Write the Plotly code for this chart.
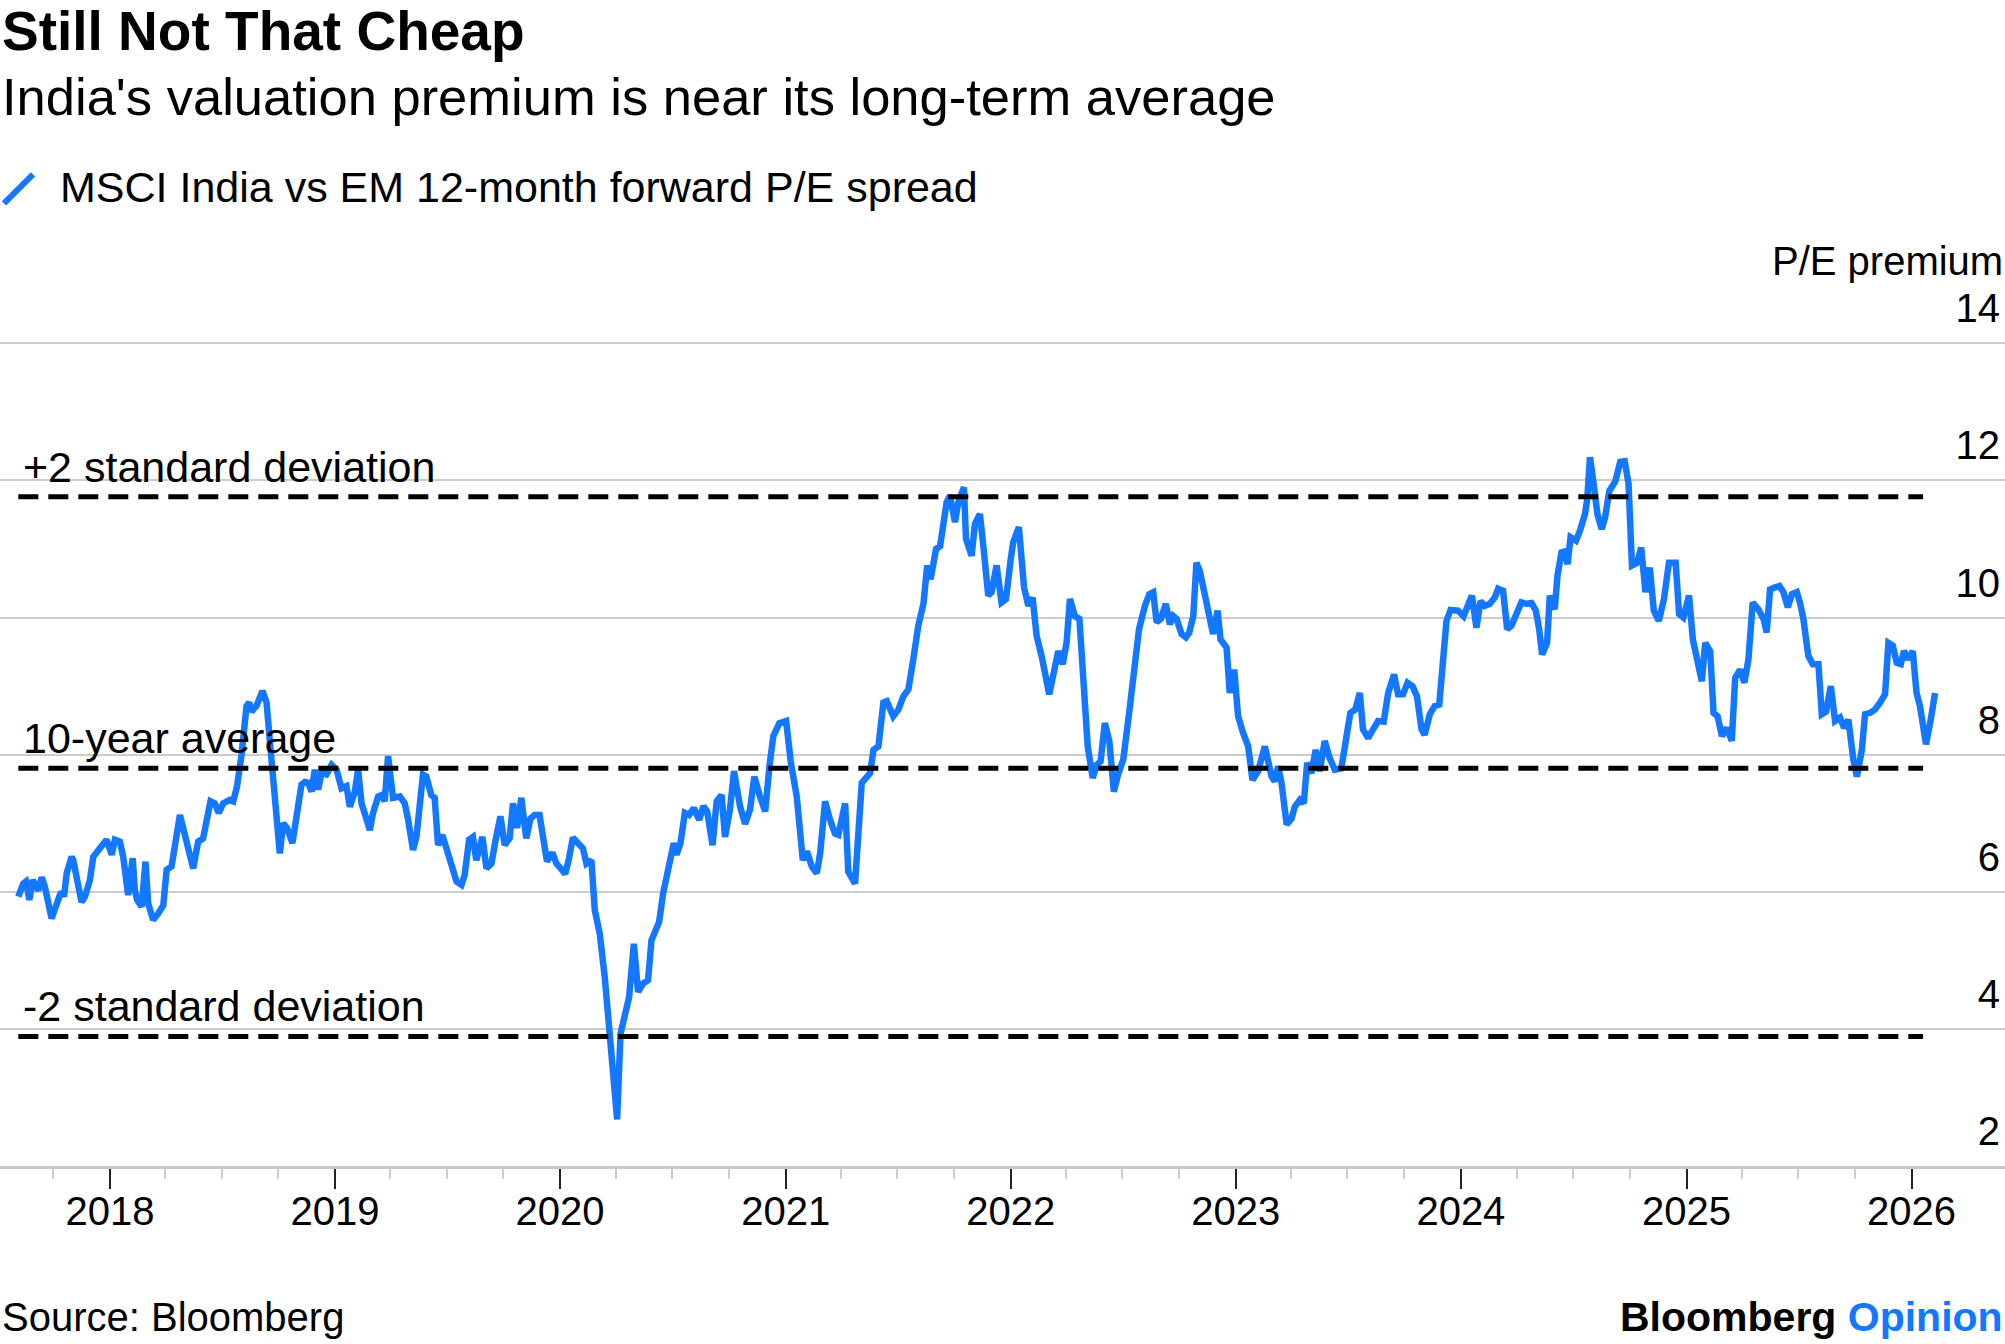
import datetime as dt
import plotly.graph_objects as go

# ---------------- data ----------------
# decimal-year positions of the weekly observations and MSCI India vs EM fwd P/E spread
years = [
    2017.593, 2017.615, 2017.627, 2017.642, 2017.657, 2017.671, 2017.682, 2017.697, 2017.711, 2017.741,
    2017.756, 2017.775, 2017.785, 2017.796, 2017.808, 2017.830, 2017.837, 2017.874, 2017.889, 2017.911,
    2017.926, 2017.948, 2017.985, 2018.008, 2018.022, 2018.044, 2018.059, 2018.081, 2018.101, 2018.111,
    2018.121, 2018.141, 2018.158, 2018.170, 2018.192, 2018.214, 2018.237, 2018.252, 2018.274, 2018.311,
    2018.341, 2018.370, 2018.392, 2018.414, 2018.447, 2018.466, 2018.484, 2018.503, 2018.533, 2018.548,
    2018.565, 2018.577, 2018.585, 2018.607, 2018.619, 2018.629, 2018.651, 2018.678, 2018.696, 2018.710,
    2018.722, 2018.733, 2018.755, 2018.770, 2018.787, 2018.811, 2018.836, 2018.851, 2018.866, 2018.881,
    2018.896, 2018.910, 2018.925, 2018.940, 2018.962, 2018.985, 2019.007, 2019.029, 2019.051, 2019.066,
    2019.088, 2019.103, 2019.118, 2019.140, 2019.155, 2019.169, 2019.192, 2019.207, 2019.221, 2019.236,
    2019.258, 2019.288, 2019.310, 2019.325, 2019.347, 2019.362,
    2019.391, 2019.406, 2019.428, 2019.443, 2019.458, 2019.477, 2019.495, 2019.517, 2019.540, 2019.562,
    2019.576, 2019.596, 2019.613, 2019.628, 2019.640, 2019.655, 2019.673, 2019.695, 2019.714, 2019.735,
    2019.754, 2019.776, 2019.791, 2019.809, 2019.828, 2019.850, 2019.869, 2019.887, 2019.909, 2019.924,
    2019.942, 2019.966, 2019.984, 2020.003, 2020.023, 2020.040, 2020.057, 2020.087, 2020.102, 2020.117,
    2020.139, 2020.154, 2020.176, 2020.198, 2020.220, 2020.235, 2020.253, 2020.268, 2020.287, 2020.306,
    2020.327, 2020.346, 2020.368, 2020.390, 2020.405, 2020.428, 2020.439, 2020.457, 2020.472, 2020.490,
    2020.504, 2020.516, 2020.534, 2020.553, 2020.572, 2020.593, 2020.617, 2020.635, 2020.652, 2020.676,
    2020.694, 2020.716, 2020.731, 2020.753, 2020.771, 2020.798, 2020.820, 2020.842, 2020.861, 2020.886,
    2020.909, 2020.928, 2020.945, 2020.972, 2021.002, 2021.023, 2021.049, 2021.076, 2021.094, 2021.116,
    2021.138, 2021.153, 2021.175, 2021.197, 2021.219, 2021.234,
    2021.264, 2021.278, 2021.308, 2021.338, 2021.353, 2021.375, 2021.390, 2021.412, 2021.434, 2021.449,
    2021.478, 2021.501, 2021.523, 2021.545, 2021.567, 2021.589, 2021.612, 2021.629, 2021.644, 2021.668,
    2021.686, 2021.715, 2021.730, 2021.752, 2021.767, 2021.792, 2021.801, 2021.826, 2021.841, 2021.863,
    2021.878, 2021.900, 2021.915, 2021.937, 2021.959, 2021.979, 2021.999, 2022.011, 2022.036, 2022.059,
    2022.078, 2022.097, 2022.115, 2022.137, 2022.171, 2022.189, 2022.211, 2022.231, 2022.248, 2022.263,
    2022.285, 2022.305, 2022.322, 2022.342, 2022.364, 2022.382, 2022.399, 2022.418, 2022.438, 2022.458,
    2022.477, 2022.500, 2022.526, 2022.552, 2022.570, 2022.596, 2022.615, 2022.633, 2022.648, 2022.667,
    2022.689, 2022.707, 2022.722, 2022.737, 2022.759, 2022.778, 2022.793, 2022.811, 2022.825, 2022.840,
    2022.862, 2022.885, 2022.899, 2022.919, 2022.932, 2022.959, 2022.973, 2022.993, 2023.010, 2023.032,
    2023.055, 2023.074, 2023.099,
    2023.129, 2023.144, 2023.159, 2023.173, 2023.188, 2023.203, 2023.226, 2023.248, 2023.262, 2023.285,
    2023.302, 2023.317, 2023.336, 2023.355, 2023.373, 2023.395, 2023.417, 2023.440, 2023.469, 2023.492,
    2023.509, 2023.531, 2023.551, 2023.565, 2023.588, 2023.610, 2023.632, 2023.657, 2023.677, 2023.703,
    2023.721, 2023.743, 2023.763, 2023.785, 2023.805, 2023.825, 2023.839, 2023.862, 2023.884, 2023.904,
    2023.921, 2023.936, 2023.954, 2023.988, 2024.012, 2024.032, 2024.049, 2024.069, 2024.087, 2024.106,
    2024.128, 2024.150, 2024.165, 2024.187, 2024.205, 2024.224, 2024.246, 2024.268, 2024.290, 2024.313,
    2024.332, 2024.347, 2024.360, 2024.382, 2024.394, 2024.416, 2024.428, 2024.446, 2024.458, 2024.473,
    2024.486, 2024.510, 2024.528, 2024.550, 2024.560, 2024.572, 2024.587, 2024.605, 2024.624, 2024.639,
    2024.658, 2024.684, 2024.706, 2024.726, 2024.743, 2024.758, 2024.781, 2024.799, 2024.818, 2024.837,
    2024.855, 2024.877, 2024.900, 2024.922, 2024.952, 2024.967, 2024.986, 2025.011,
    2025.028, 2025.049, 2025.068, 2025.083, 2025.105, 2025.120, 2025.138, 2025.157, 2025.179, 2025.201,
    2025.216, 2025.238, 2025.257, 2025.275, 2025.294, 2025.319, 2025.342, 2025.356, 2025.371, 2025.393,
    2025.413, 2025.430, 2025.450, 2025.468, 2025.490, 2025.504, 2025.519, 2025.541, 2025.561, 2025.586,
    2025.601, 2025.620, 2025.641, 2025.660, 2025.682, 2025.700, 2025.719, 2025.741, 2025.757, 2025.779,
    2025.793, 2025.816, 2025.838, 2025.860, 2025.882, 2025.897, 2025.916, 2025.934, 2025.952, 2025.966,
    2025.985, 2026.005, 2026.022, 2026.037, 2026.064, 2026.085, 2026.104,
]

pe_spread = [
    5.93, 6.12, 6.15, 5.88, 6.17, 6.05, 6.02, 6.21, 6.07, 5.61,
    5.78, 5.93, 6.00, 5.93, 6.27, 6.51, 6.46, 5.85, 5.93, 6.17,
    6.51, 6.59, 6.76, 6.54, 6.76, 6.73, 6.51, 5.95, 6.49, 6.02,
    5.88, 5.78, 6.44, 5.83, 5.59, 5.68, 5.80, 6.32, 6.37, 7.12,
    6.71, 6.34, 6.73, 6.78, 7.32, 7.29, 7.15, 7.29, 7.34, 7.32,
    7.54, 7.78, 8.00, 8.71, 8.76, 8.63, 8.71, 8.93, 8.76, 8.22,
    7.73, 7.39, 6.56, 7.00, 6.93, 6.71, 7.29, 7.56, 7.60, 7.59,
    7.46, 7.78, 7.49, 7.73, 7.71, 7.85, 7.78, 7.51, 7.54, 7.24,
    7.46, 7.78, 7.29, 7.05, 6.90, 7.15, 7.39, 7.41, 7.32, 7.98,
    7.37, 7.39, 7.29, 7.05, 6.61, 6.80,
    7.71, 7.68, 7.41, 7.37, 6.68, 6.83, 6.61, 6.37, 6.15, 6.10,
    6.24, 6.76, 6.80, 6.46, 6.66, 6.80, 6.34, 6.41, 6.76, 7.10,
    6.68, 6.78, 7.29, 6.93, 7.37, 6.78, 7.07, 7.12, 7.12, 6.76,
    6.44, 6.57, 6.41, 6.34, 6.26, 6.49, 6.79, 6.68, 6.63, 6.41,
    6.46, 5.73, 5.39, 4.76, 3.93, 3.20, 2.68, 3.93, 4.17, 4.46,
    5.24, 4.54, 4.66, 4.71, 5.29, 5.49, 5.56, 5.98, 6.22, 6.51,
    6.71, 6.54, 6.71, 7.15, 7.12, 7.22, 7.05, 7.25, 7.17, 6.68,
    7.32, 7.41, 6.80, 7.20, 7.76, 7.24, 6.99, 7.20, 7.68, 7.39,
    7.17, 7.83, 8.27, 8.46, 8.49, 7.88, 7.39, 6.46, 6.59, 6.37,
    6.27, 6.56, 7.32, 7.05, 6.85, 6.83,
    7.29, 6.29, 6.12, 7.59, 7.66, 7.73, 8.07, 8.12, 8.76, 8.78,
    8.56, 8.66, 8.85, 8.95, 9.39, 9.88, 10.20, 10.76, 10.56, 11.00,
    11.04, 11.68, 11.78, 11.39, 11.68, 11.90, 11.15, 10.90, 11.37, 11.51,
    11.05, 10.32, 10.37, 10.76, 10.22, 10.27, 10.83, 11.10, 11.32, 10.44,
    10.17, 10.29, 9.73, 9.44, 8.88, 9.20, 9.51, 9.32, 9.63, 10.27,
    10.02, 9.98, 9.15, 8.12, 7.66, 7.85, 7.90, 8.46, 8.20, 7.46,
    7.71, 7.93, 8.61, 9.34, 9.83, 10.17, 10.34, 10.37, 9.93, 9.98,
    10.20, 9.90, 10.02, 9.98, 9.76, 9.71, 9.78, 10.02, 10.80, 10.68,
    10.32, 9.88, 9.76, 10.10, 9.68, 9.56, 8.90, 9.24, 8.56, 8.32,
    8.12, 7.63, 7.76,
    8.12, 7.93, 7.68, 7.61, 7.83, 7.59, 6.98, 7.07, 7.24, 7.34,
    7.29, 7.88, 7.73, 8.07, 7.76, 8.20, 7.95, 7.78, 7.80, 8.27,
    8.61, 8.66, 8.90, 8.37, 8.24, 8.37, 8.49, 8.48, 8.90, 9.17,
    8.88, 8.88, 9.05, 9.00, 8.85, 8.37, 8.29, 8.59, 8.71, 8.73,
    9.56, 9.95, 10.11, 10.10, 10.02, 10.22, 10.32, 9.85, 10.24, 10.17,
    10.20, 10.29, 10.42, 10.39, 9.83, 9.88, 10.07, 10.22, 10.20, 10.21,
    10.10, 9.83, 9.46, 9.63, 10.32, 10.12, 10.61, 10.95, 10.96, 10.78,
    11.17, 11.12, 11.27, 11.51, 11.73, 12.34, 11.98, 11.51, 11.29, 11.46,
    11.85, 11.98, 12.27, 12.28, 11.95, 10.76, 10.80, 11.02, 10.37, 10.73,
    10.10, 9.95, 10.27, 10.80, 10.80, 10.05, 10.00, 10.32,
    9.68, 9.34, 9.07, 9.63, 9.51, 8.61, 8.56, 8.27, 8.39, 8.20,
    9.12, 9.24, 9.05, 9.39, 10.22, 10.12, 9.98, 9.78, 10.41, 10.44,
    10.46, 10.37, 10.15, 10.34, 10.37, 10.22, 9.98, 9.44, 9.32, 9.32,
    8.59, 8.63, 9.00, 8.49, 8.54, 8.39, 8.51, 7.93, 7.68, 8.07,
    8.59, 8.61, 8.66, 8.76, 8.88, 9.63, 9.59, 9.34, 9.32, 9.51,
    9.39, 9.51, 8.90, 8.71, 8.15, 8.51, 8.90,
]

# reference levels
band_names = ["+2 standard deviation", "10-year average", "-2 standard deviation"]
band_values = [11.76, 7.80, 3.89]
band_end_year = 2026.051

year_ticks = [2018, 2019, 2020, 2021, 2022, 2023, 2024, 2025, 2026]
y_ticks = [2, 4, 6, 8, 10, 12, 14]

TITLE = "Still Not That Cheap"
SUBTITLE = "India's valuation premium is near its long-term average"
LEGEND = "MSCI India vs EM 12-month forward P/E spread"
UNIT = "P/E premium"
SOURCE = "Source: Bloomberg"

# ---------------- helpers ----------------
def to_date(d):
    y = int(d)
    start = dt.datetime(y, 1, 1)
    end = dt.datetime(y + 1, 1, 1)
    return start + (end - start) * (d - y)

dates = [to_date(v) for v in years]

W, H = 2005, 1344
Y_MIN, Y_MAX = 2, 14.15
PX_PER_UNIT = 68.58
PLOT_BOTTOM = 1166
PLOT_TOP = PLOT_BOTTOM - (Y_MAX - Y_MIN) * PX_PER_UNIT
BLUE = "#1477ff"
FONT = "Liberation Sans, Arial, Helvetica, sans-serif"

def py(pix):
    return (PLOT_BOTTOM - pix) / (PLOT_BOTTOM - PLOT_TOP)

def px(pix):
    return pix / W

fig = go.Figure()
fig.add_trace(go.Scatter(x=dates, y=pe_spread, mode="lines",
                         line=dict(color=BLUE, width=6.5), hoverinfo="skip", showlegend=False))

for name, val in zip(band_names, band_values):
    fig.add_trace(go.Scatter(x=[dates[0], to_date(band_end_year)], y=[val, val], mode="lines",
                             line=dict(color="#000000", width=5, dash="20px,10px"),
                             hoverinfo="skip", showlegend=False))
    fig.add_annotation(x=px(21), xref="paper", y=val, yref="y", text=name, showarrow=False,
                       xanchor="left", yanchor="middle", yshift=30,
                       font=dict(size=43, color="#000", family=FONT))

minor_vals = []
for y in range(2017, 2026):
    for m in (4, 7, 10):
        d = dt.datetime(y, m, 1)
        if dt.datetime(2017, 8, 1) < d < dt.datetime(2026, 1, 1):
            minor_vals.append(d)

fig.update_layout(
    width=W, height=H,
    margin=dict(l=0, r=0, t=round(PLOT_TOP), b=H - PLOT_BOTTOM, pad=0),
    paper_bgcolor="white", plot_bgcolor="white",
    font=dict(family=FONT, color="#000"),
    showlegend=False,
    xaxis=dict(
        type="date",
        range=[to_date(2017.5116), to_date(2026.415)],
        tickvals=[dt.datetime(y, 1, 1) for y in year_ticks],
        ticktext=[str(y) for y in year_ticks],
        ticks="outside", ticklen=20, tickwidth=2, tickcolor="#222",
        ticklabelstandoff=-12,
        tickfont=dict(size=40, color="#000", family=FONT),
        showgrid=False, zeroline=False,
        showline=True, linecolor="#c8c8c8", linewidth=3,
        minor=dict(tickvals=minor_vals, ticks="outside", ticklen=10, tickwidth=2,
                   tickcolor="#cccccc", showgrid=False),
        automargin=False, fixedrange=True,
    ),
    yaxis=dict(
        range=[Y_MIN, Y_MAX], tickvals=y_ticks, ticktext=[str(v) for v in y_ticks],
        side="right", ticklabelposition="inside", ticks="",
        ticklabelshift=-35, ticklabelstandoff=2, ticklabeloverflow="allow",
        tickfont=dict(size=40, color="#000", family=FONT),
        showgrid=True, gridcolor="#cccccc", gridwidth=2,
        zeroline=False, showline=False, automargin=False, fixedrange=True,
    ),
)

# header texts
fig.add_annotation(x=0, xref="paper", y=py(31), yref="paper", text=f"<b>{TITLE}</b>",
                   showarrow=False, xanchor="left", yanchor="middle",
                   font=dict(size=55, color="#000", family=FONT))
fig.add_annotation(x=0, xref="paper", y=py(96), yref="paper", text=SUBTITLE,
                   showarrow=False, xanchor="left", yanchor="middle",
                   font=dict(size=52.5, color="#000", family=FONT))
fig.add_shape(type="line", xref="paper", yref="paper",
              x0=px(4), y0=py(203), x1=px(33), y1=py(174),
              line=dict(color=BLUE, width=6))
fig.add_annotation(x=px(58), xref="paper", y=py(187), yref="paper", text=LEGEND,
                   showarrow=False, xanchor="left", yanchor="middle",
                   font=dict(size=43, color="#000", family=FONT))
fig.add_annotation(x=1, xref="paper", y=py(261), yref="paper", text=UNIT,
                   showarrow=False, xanchor="right", yanchor="middle",
                   font=dict(size=40, color="#000", family=FONT))
fig.add_annotation(x=0, xref="paper", y=py(1317), yref="paper", text=SOURCE,
                   showarrow=False, xanchor="left", yanchor="middle",
                   font=dict(size=40, color="#000", family=FONT))
fig.add_annotation(x=1, xref="paper", y=py(1317), yref="paper",
                   text=f"<b>Bloomberg <span style='color:{BLUE}'>Opinion</span></b>",
                   showarrow=False, xanchor="right", yanchor="middle",
                   font=dict(size=41, color="#000", family=FONT))

fig.write_html("out.html", config={"displayModeBar": False},
               post_script="document.body.style.margin='0';document.body.style.overflow='hidden';")
